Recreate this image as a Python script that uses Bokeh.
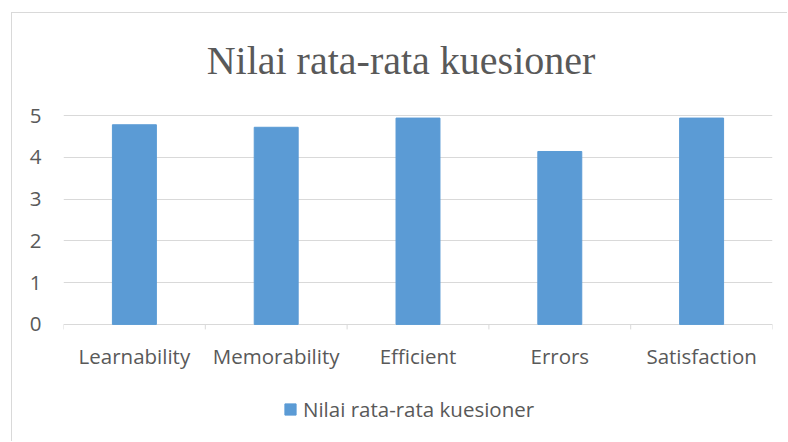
from bokeh.plotting import figure
from bokeh.models import (ColumnDataSource, Range1d, FixedTicker, Legend, LegendItem, Label)
from bokeh.core.properties import value
from bokeh.embed import file_html
from bokeh.resources import INLINE

categories = ["Learnability", "Memorability", "Efficient", "Errors", "Satisfaction"]
values = [4.78, 4.72, 4.94, 4.14, 4.94]
series_name = "Nilai rata-rata kuesioner"
title_text = "Nilai rata-rata kuesioner"
y_ticks = [0, 1, 2, 3, 4, 5]

TXT = "#595959"
GRID = "#d9d9d9"
BAR = "#5b9bd5"
FONT = "Open Sans"
FS = "20.5px"

n = len(categories)
centers = [i + 0.5 for i in range(n)]
bounds = list(range(n + 1))
src = ColumnDataSource(dict(x=centers, cat=categories, val=values))

# frame fills the full canvas height; value axis occupies 115..324 px of it
PX_PER_UNIT = 41.74
y_lo = -(118 / PX_PER_UNIT)
y_hi = y_ticks[-1] + 102 / PX_PER_UNIT

p = figure(width=776, height=429,
           x_range=Range1d(0, n), y_range=Range1d(y_lo, y_hi),
           output_backend="svg", toolbar_location=None, x_axis_location=None,
           title_location=None,
           min_border_left=51, min_border_right=16, min_border_top=0, min_border_bottom=0)
p.margin = (12, 0, 0, 11)
p.outline_line_color = None
p.background_fill_color = "white"
p.border_fill_color = "white"
p.styles = {"border-left": "1px solid #d9d9d9", "border-top": "1px solid #d9d9d9"}

r = p.vbar(x="x", top="val", bottom=0, width=0.31, source=src, fill_color=BAR, line_color=BAR)

p.xgrid.visible = False
p.ygrid.ticker = FixedTicker(ticks=y_ticks)
p.ygrid.grid_line_color = GRID
p.ygrid.grid_line_width = 1

yax = p.yaxis[0]
yax.ticker = FixedTicker(ticks=y_ticks)
yax.axis_line_color = None
yax.major_tick_line_color = None
yax.minor_tick_line_color = None
yax.major_label_text_font = FONT
yax.major_label_text_font_size = FS
yax.major_label_text_color = TXT
yax.major_label_standoff = 16

# tick marks at category boundaries, below the zero line
p.segment(x0=bounds, x1=bounds, y0=[0] * len(bounds), y1=[-5 / PX_PER_UNIT] * len(bounds),
          line_color=GRID, line_width=1)

# category labels
p.text(x="x", y=0, text="cat", source=src, y_offset=32,
       text_font=value(FONT), text_font_size=value(FS), text_color=TXT,
       text_align="center", text_baseline="alphabetic")

title = Label(x=2.38, y=6.32, text=title_text,
              text_font="Liberation Serif", text_font_size="40px", text_color=TXT,
              text_align="center", text_baseline="alphabetic")
p.add_layout(title)

legend = Legend(items=[LegendItem(label=series_name, renderers=[r])], location=(220, 19),
                padding=0, margin=0, border_line_color=None, background_fill_alpha=0,
                glyph_width=14, glyph_height=14, label_standoff=6, label_height=14,
                label_text_font=FONT, label_text_font_size=FS, label_text_color=TXT)
p.add_layout(legend, "center")

open("out.html", "w").write(file_html(p, INLINE))
